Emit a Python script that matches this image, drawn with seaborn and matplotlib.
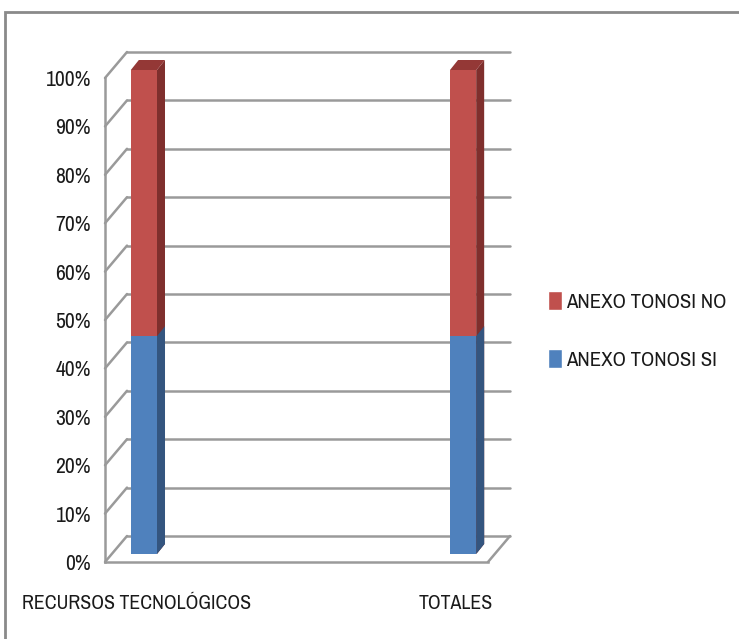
import pandas as pd
import numpy as np
import matplotlib
matplotlib.use('Agg')
import matplotlib.pyplot as plt
from matplotlib import font_manager
from matplotlib.patches import Polygon, Rectangle, Patch
import seaborn as sns

# Data
categories = ["RECURSOS TECNOLÓGICOS", "TOTALES"]
si_values = [45, 45]
no_values = [55, 55]
series_names = ["ANEXO TONOSI NO", "ANEXO TONOSI SI"]
y_tick_labels = ["0%", "10%", "20%", "30%", "40%", "50%", "60%", "70%", "80%", "90%", "100%"]

# empty category slots between the two columns (as in the original sheet)
order = [categories[0], " ", "  ", "   ", "    ", categories[1]]

sns.set_style('white')

# look for a narrow face (the original uses a Calibri-like condensed font)
fonts = font_manager.fontManager.ttflist
narrow = [f.name for f in fonts if 'Narrow' in f.name or 'Condensed' in f.name]
condensed_dejavu = any(f.name == 'DejaVu Sans' and f.stretch in ('condensed', 'semi-condensed')
                       for f in fonts)
if narrow:
    plt.rcParams['font.family'] = [narrow[0], 'DejaVu Sans']
    fs_y, fs_x, fs_leg = 15.5, 14.3, 15
elif condensed_dejavu:
    plt.rcParams['font.family'] = ['DejaVu Sans']
    plt.rcParams['font.stretch'] = 'condensed'
    fs_y, fs_x, fs_leg = 13, 12.5, 12.5
else:
    plt.rcParams['font.family'] = ['DejaVu Sans']
    fs_y, fs_x, fs_leg = 11.5, 11.8, 11.2

RED, RED_SIDE, RED_TOP = '#C0504D', '#7F2F2D', '#943836'
BLUE, BLUE_SIDE = '#4F81BD', '#34557F'
GRID = '#9a9a9a'

W, H = 739, 639
fig = plt.figure(figsize=(W / 100, H / 100), dpi=100)
ax = fig.add_axes([105 / W, (H - 562) / H, 383 / W, 484 / H])

df = pd.DataFrame({'cat': categories,
                   'total': np.array(si_values) + np.array(no_values),
                   'si': si_values})

sns.barplot(data=df, x='cat', y='total', order=order, color=RED, width=0.41,
            saturation=1, errorbar=None, ax=ax, zorder=3)
n_red = len(ax.patches)
sns.barplot(data=df, x='cat', y='si', order=order, color=BLUE, width=0.41,
            saturation=1, errorbar=None, ax=ax, zorder=4)

ax.set_xlim(-0.5, len(order) - 0.5)
ax.set_ylim(0, 100)

# pixel -> data unit conversion
p0, p1 = ax.transData.transform([[0, 0], [1, 1]])
px_x, px_y = p1[0] - p0[0], p1[1] - p0[1]
def dx(px):
    return px / px_x
def dy(px):
    return px / px_y

# back wall offset and bar offset (pseudo 3D)
wall_x, wall_y = dx(22), dy(26)
shift_x, shift_y = dx(7), dy(8)
depth_x, depth_y = dx(8), dy(10)

xmin, xmax = ax.get_xlim()
for v in range(0, 101, 10):
    ax.plot([xmin + wall_x, xmax + wall_x], [v + wall_y, v + wall_y],
            color=GRID, lw=1.8, clip_on=False, zorder=1)
    ax.plot([xmin, xmin + wall_x], [v, v + wall_y], color=GRID, lw=1.8,
            clip_on=False, zorder=1)
ax.plot([xmax, xmax + wall_x], [0, wall_y], color=GRID, lw=1.8, clip_on=False, zorder=1)

# shift bars and add side/top faces
for i, p in enumerate(list(ax.patches)):
    if p.get_height() == 0 or np.isnan(p.get_height()):
        continue
    red = i < n_red
    x0 = p.get_x() + shift_x
    x1 = x0 + p.get_width()
    y0 = shift_y
    y1 = p.get_height() + shift_y
    p.set_x(x0)
    p.set_y(y0)
    p.set_linewidth(0)
    p.set_clip_on(False)
    side = Polygon([[x1, y0], [x1 + depth_x, y0 + depth_y],
                    [x1 + depth_x, y1 + depth_y], [x1, y1]], closed=True,
                   facecolor=RED_SIDE if red else BLUE_SIDE, lw=0,
                   zorder=3 if red else 4, clip_on=False)
    ax.add_patch(side)
    if red:
        top = Polygon([[x0, y1], [x0 + depth_x, y1 + depth_y],
                       [x1 + depth_x, y1 + depth_y], [x1, y1]], closed=True,
                      facecolor=RED_TOP, lw=0, zorder=3, clip_on=False)
        ax.add_patch(top)

# axes styling
for s in ['top', 'right']:
    ax.spines[s].set_visible(False)
for s in ['left', 'bottom']:
    ax.spines[s].set_color(GRID)
    ax.spines[s].set_linewidth(1.8)
    ax.spines[s].set_zorder(1)

ax.set_yticks(range(0, 101, 10))
ax.set_yticklabels(y_tick_labels, fontsize=fs_y, color='#1a1a1a')
ax.tick_params(axis='y', length=6, width=1.8, color=GRID, pad=4)

ax.set_xticks(range(len(order)))
ax.set_xticklabels(order, fontsize=fs_x, color='#1a1a1a')
ax.tick_params(axis='x', which='major', length=0, pad=23)
ax.set_xticks(np.arange(-0.5, len(order), 1.0), minor=True)
ax.tick_params(axis='x', which='minor', length=9, width=1.8, color=GRID)
ax.set_xlabel('')
ax.set_ylabel('')

handles = [Patch(facecolor=RED, label=series_names[0]),
           Patch(facecolor=BLUE, label=series_names[1])]
leg = fig.legend(handles=handles, loc='upper left', bbox_to_anchor=(529 / W, (H - 272) / H),
                 frameon=False, fontsize=fs_leg, handlelength=0.7, handleheight=1.05,
                 handletextpad=0.2, labelspacing=1.8)
for t in leg.get_texts():
    t.set_color('#1a1a1a')

# outer chart frame
fig.add_artist(Rectangle((5 / W, -0.1), 1.2, (H - 12) / H + 0.1,
                         transform=fig.transFigure, fill=False,
                         edgecolor='#8a8a8a', lw=2))

plt.savefig('out.png', dpi=100)
plt.close()
